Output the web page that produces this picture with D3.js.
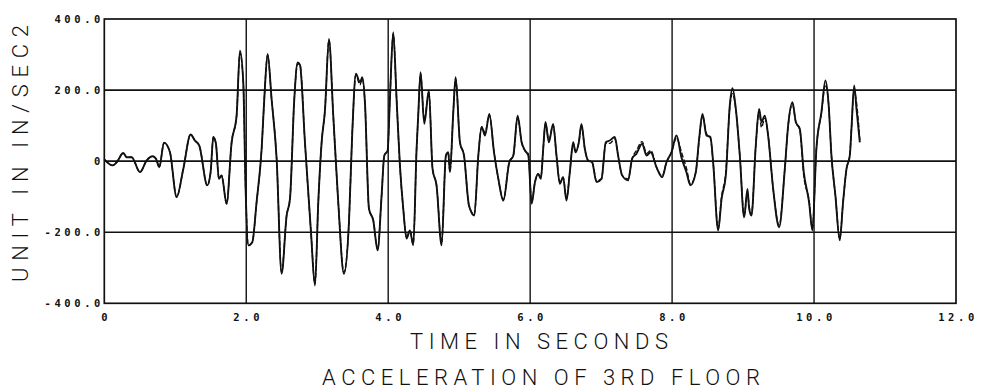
<!DOCTYPE html>
<html>
<head>
<meta charset="utf-8">
<script src="https://cdn.jsdelivr.net/npm/d3@7"></script>
<style>
  html, body { margin: 0; padding: 0; background: #fff; }
  svg { display: block; }
  .tick-label { font-family: "DejaVu Sans Mono", monospace; font-weight: bold; font-size: 10.5px; letter-spacing: 3.6px; fill: #111; }
  .title { font-family: Roboto, "DejaVu Sans", sans-serif; font-weight: 300; font-size: 22px; fill: #111; }
</style>
</head>
<body>
<svg id="chart" width="983" height="392"></svg>
<script>
// Sample times (s) for the recorded and computed floor acceleration traces
const timeSec = [
  0.000, 0.118, 0.175, 0.268, 0.315, 0.385, 0.503, 0.597, 0.681, 0.728,
  0.775, 0.841, 0.925, 1.019, 1.113, 1.216, 1.277, 1.338, 1.451, 1.498,
  1.536, 1.573, 1.615, 1.653, 1.723, 1.794, 1.864, 1.911, 1.958, 1.991,
  2.029, 2.085, 2.146, 2.217, 2.254, 2.301, 2.357, 2.428, 2.498, 2.569,
  2.616, 2.677, 2.724, 2.757, 2.827, 2.912, 2.968, 3.015, 3.062, 3.109,
  3.165, 3.226, 3.296, 3.376, 3.447, 3.494, 3.545, 3.602, 3.635, 3.672,
  3.729, 3.790, 3.851, 3.907, 3.945, 3.992, 4.024, 4.071, 4.118, 4.165,
  4.212, 4.259, 4.306, 4.353, 4.400, 4.423, 4.456, 4.508, 4.573, 4.625,
  4.681, 4.752, 4.813, 4.846, 4.870, 4.917, 4.950, 5.011, 5.068, 5.138,
  5.213, 5.270, 5.317, 5.364, 5.425, 5.491, 5.552, 5.622, 5.706, 5.763,
  5.824, 5.880, 5.927, 5.974, 6.021, 6.068, 6.113, 6.151, 6.184, 6.216,
  6.263, 6.324, 6.371, 6.418, 6.465, 6.512, 6.559, 6.606, 6.639, 6.686,
  6.723, 6.770, 6.817, 6.873, 6.935, 7.005, 7.066, 7.122, 7.193, 7.239,
  7.296, 7.380, 7.437, 7.498, 7.578, 7.639, 7.700, 7.780, 7.860, 7.921,
  7.991, 8.062, 8.132, 8.202, 8.259, 8.334, 8.381, 8.428, 8.484, 8.540,
  8.578, 8.649, 8.697, 8.757, 8.813, 8.851, 8.898, 8.954, 9.015, 9.062,
  9.086, 9.118, 9.179, 9.226, 9.259, 9.306, 9.353, 9.424, 9.508, 9.588,
  9.635, 9.696, 9.743, 9.799, 9.855, 9.930, 9.977, 10.033, 10.104, 10.160,
  10.205, 10.245, 10.301, 10.362, 10.409, 10.457, 10.504, 10.527, 10.565, 10.598,
  10.645
];

// Recorded acceleration (in/sec^2), solid trace
const accelRecorded = [
  5, -12, -3, 23, 11, 11, -31, 2, 14, 7,
  -17, 52, 25, -101, -22, 75, 58, 44, -68, -31,
  68, 49, -50, -40, -120, 53, 128, 311, 222, -78,
  -237, -228, -115, 35, 175, 302, 175, 7, -317, -153,
  -106, 175, 278, 271, 53, -200, -350, -115, 53, 143,
  344, 128, -115, -317, -172, 82, 246, 222, 236, 166,
  -134, -167, -251, -97, 16, 30, 175, 363, 175, -12,
  -134, -218, -195, -237, 35, 128, 250, 105, 199, -22,
  -68, -237, 16, 25, -31, 138, 236, 53, 16, -125,
  -153, 16, 96, 72, 133, 25, -50, -111, -3, 16,
  128, 53, 30, 16, -120, -59, -36, -50, 35, 110,
  53, 105, 16, -64, -45, -111, -31, 53, 25, 53,
  105, 35, 2, -3, -59, -50, 53, 58, 68, 16,
  -40, -54, 7, 21, 49, 16, 25, -17, -45, -3,
  25, 72, 10, -31, -68, -31, 63, 133, 72, 68,
  -3, -195, -106, -40, 157, 205, 147, 16, -158, -78,
  -134, -153, 44, 147, 110, 128, 72, -78, -186, -22,
  100, 166, 110, 91, -31, -115, -195, 35, 138, 227,
  160, 16, -97, -223, -115, -22, 16, 91, 213, 147,
  53
];

// Computed acceleration (in/sec^2), dashed trace
const accelComputed = [
  5, -12, -3, 23, 11, 11, -31, 2, 14, 7,
  -17, 52, 25, -101, -22, 75, 58, 44, -68, -31,
  68, 49, -50, -40, -120, 53, 128, 305, 222, -78,
  -237, -228, -115, 35, 175, 298, 175, 7, -312, -153,
  -106, 175, 274, 271, 53, -200, -345, -115, 53, 143,
  340, 128, -115, -313, -172, 82, 242, 215, 232, 166,
  -134, -167, -248, -97, 16, 30, 175, 358, 175, -12,
  -134, -215, -195, -232, 35, 128, 246, 115, 195, -22,
  -68, -232, 16, 25, -31, 138, 232, 53, 16, -125,
  -150, 16, 96, 80, 130, 25, -50, -108, -3, 16,
  124, 53, 30, 20, -115, -59, -36, -46, 35, 106,
  60, 102, 16, -58, -45, -106, -31, 50, 30, 53,
  100, 35, 2, -3, -55, -50, 50, 50, 62, 16,
  -40, -50, 7, 30, 55, 22, 30, -17, -42, -3,
  25, 65, 25, -20, -64, -31, 60, 128, 78, 64,
  -3, -190, -100, -30, 152, 190, 145, 16, -152, -90,
  -128, -150, 44, 142, 95, 120, 72, -78, -180, -22,
  100, 160, 110, 88, -40, -112, -190, 35, 135, 215,
  160, 16, -97, -218, -115, -22, 16, 91, 200, 165,
  60
];

const xTicks = [0, 2, 4, 6, 8, 10, 12];
const xTickLabels = ["0", "2.0", "4.0", "6.0", "8.0", "10.0", "12.0"];
const yTicks = [400, 200, 0, -200, -400];
const yTickLabels = ["400.0", "200.0", "0", "-200.0", "-400.0"];
const gridX = [2, 4, 6, 8, 10];
const gridY = [200, 0, -200];

const xTitle = "TIME IN SECONDS";
const yTitle = "UNIT IN IN/SEC2";
const chartTitle = "ACCELERATION OF 3RD FLOOR";

const svg = d3.select("#chart");
const plot = { left: 104.3, right: 956, top: 19, bottom: 303.3 };

const x = d3.scaleLinear().domain([0, 12]).range([plot.left, plot.right]);
const y = d3.scaleLinear().domain([-400, 400]).range([plot.bottom, plot.top]);

// grid lines
svg.append("g").selectAll("line").data(gridX).join("line")
  .attr("x1", d => x(d)).attr("x2", d => x(d))
  .attr("y1", plot.top).attr("y2", plot.bottom)
  .attr("stroke", "#111").attr("stroke-width", 1.4);
svg.append("g").selectAll("line").data(gridY).join("line")
  .attr("x1", plot.left).attr("x2", plot.right)
  .attr("y1", d => y(d)).attr("y2", d => y(d))
  .attr("stroke", "#111").attr("stroke-width", 1.7);

// frame
svg.append("rect")
  .attr("x", plot.left).attr("y", plot.top)
  .attr("width", plot.right - plot.left).attr("height", plot.bottom - plot.top)
  .attr("fill", "none").attr("stroke", "#111").attr("stroke-width", 1.7);

// traces
const line = d3.line().curve(d3.curveMonotoneX);
const ptsComputed = timeSec.map((t, i) => [x(t), y(accelComputed[i])]);
const ptsRecorded = timeSec.map((t, i) => [x(t), y(accelRecorded[i])]);

svg.append("path").attr("d", line(ptsComputed))
  .attr("fill", "none").attr("stroke", "#111").attr("stroke-width", 1.4)
  .attr("stroke-dasharray", "5,2").attr("stroke-linejoin", "round");
svg.append("path").attr("d", line(ptsRecorded))
  .attr("fill", "none").attr("stroke", "#111").attr("stroke-width", 1.9)
  .attr("stroke-linejoin", "round");

// y tick labels
svg.append("g").selectAll("text").data(yTicks).join("text")
  .attr("class", "tick-label")
  .attr("x", 104).attr("y", d => y(d)).attr("dy", "0.35em")
  .attr("text-anchor", "end")
  .text((d, i) => yTickLabels[i]);

// x tick labels
svg.append("g").selectAll("text").data(xTicks).join("text")
  .attr("class", "tick-label")
  .attr("x", d => x(d) + 2).attr("y", 321)
  .attr("text-anchor", "middle")
  .text((d, i) => xTickLabels[i]);

// axis titles
svg.append("text").attr("class", "title")
  .attr("x", 410).attr("y", 349)
  .attr("textLength", 258).attr("lengthAdjust", "spacing")
  .text(xTitle);

svg.append("text").attr("class", "title")
  .attr("transform", "translate(28,282) rotate(-90)")
  .attr("x", 0).attr("y", 0)
  .attr("textLength", 257).attr("lengthAdjust", "spacing")
  .text(yTitle);

svg.append("text").attr("class", "title")
  .attr("x", 322).attr("y", 385)
  .attr("textLength", 438).attr("lengthAdjust", "spacing")
  .text(chartTitle);
</script>
</body>
</html>
